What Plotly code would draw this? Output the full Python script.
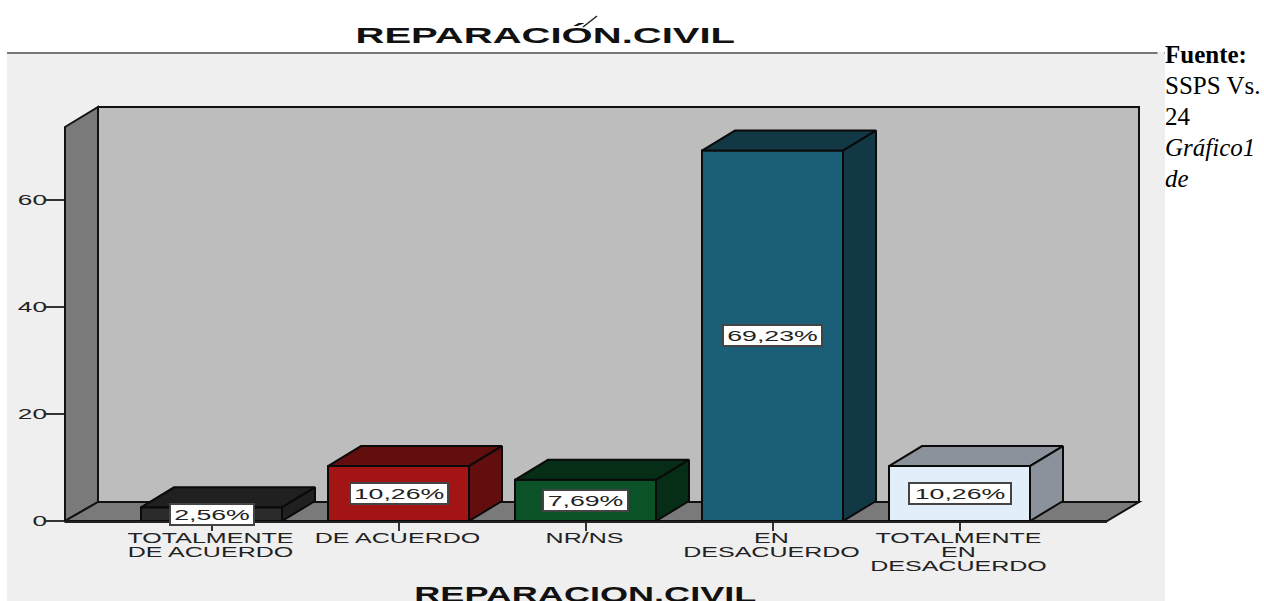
import plotly.graph_objects as go

categories = ["TOTALMENTE<br>DE ACUERDO", "DE ACUERDO", "NR/NS", "EN<br>DESACUERDO", "TOTALMENTE<br>EN<br>DESACUERDO"]
values = [2.56, 10.26, 7.69, 69.23, 10.26]
value_labels = ["2,56%", "10,26%", "7,69%", "69,23%", "10,26%"]
front_colors = ["#2b2b2b", "#a31515", "#0b5229", "#1b5e78", "#e3eefb"]
depth_colors = ["#202020", "#630e0e", "#062e17", "#123845", "#8b929b"]
box_widths = [86, 100, 87, 101, 104]
y_ticks = [0, 20, 40, 60]
side_note = ["<b>Fuente:</b>", "SSPS Vs.", "24", "<i>Gráfico1</i>", "<i>de</i>"]

W, H = 1264, 601
L, R, T, B = 65, 1107, 107, 521
X0, STEP = 211.5, 187.0
PXU = 5.35
BAR_W = 141 / STEP
DX, DY = 33 / STEP, 20 / PXU
idx = list(range(len(values)))


def px(v):
    return (v - L) / (R - L)


def py(v):
    return (B - v) / (B - T)


def poly(points):
    return "M" + " L".join(f"{px(a):.5f},{py(b):.5f}" for a, b in points) + " Z"


fig = go.Figure()
fig.add_bar(x=idx, y=values, width=BAR_W, marker=dict(color=front_colors, line=dict(color="#0a0a0a", width=2)),
            cliponaxis=False, hoverinfo="skip", showlegend=False)
for i, v in zip(idx, values):
    l, r = i - BAR_W / 2, i + BAR_W / 2
    fig.add_scatter(x=[l, r, r + DX, l + DX, l], y=[v, v, v + DY, v + DY, v], mode="lines", fill="toself",
                    fillcolor=depth_colors[i], line=dict(color="#0a0a0a", width=2), hoverinfo="skip", showlegend=False)
    fig.add_scatter(x=[r, r + DX, r + DX, r, r], y=[0, DY, v + DY, v, 0], mode="lines", fill="toself",
                    fillcolor=depth_colors[i], line=dict(color="#0a0a0a", width=2), hoverinfo="skip", showlegend=False)

edge = dict(color="#111111", width=2)
shapes = [
    dict(type="path", xref="paper", yref="paper", layer="below", line=dict(width=0), fillcolor="#efefef",
         path=poly([(7, 54), (1165, 54), (1165, 601), (7, 601)])),
    dict(type="line", xref="paper", yref="paper", layer="below", line=dict(color="#777777", width=2),
         x0=px(7), x1=px(1165), y0=py(53), y1=py(53)),
    dict(type="path", xref="paper", yref="paper", layer="below", line=edge, fillcolor="#bdbdbd",
         path=poly([(98, 107), (1139, 107), (1139, 502), (98, 502)])),
    dict(type="path", xref="paper", yref="paper", layer="below", line=edge, fillcolor="#7a7a7a",
         path=poly([(65, 127), (98, 107), (98, 502), (65, 521)])),
    dict(type="path", xref="paper", yref="paper", layer="below", line=edge, fillcolor="#7a7a7a",
         path=poly([(65, 521), (1107, 521), (1139, 502), (98, 502)])),
    dict(type="line", xref="paper", yref="paper", layer="above", line=dict(color="#222222", width=1.5),
         x0=px(583), y0=py(27), x1=px(597), y1=py(16)),
]

ann = []
for i, v in zip(idx, values):
    ann.append(dict(x=i, y=v / 2, xref="x", yref="y", text=value_labels[i], showarrow=False, width=box_widths[i] - 4,
                    height=19, bgcolor="#ffffff", bordercolor="#444444", borderwidth=2, borderpad=0,
                    font=dict(family="Liberation Sans", size=15, color="#222222")))
title_base = dict(xref="paper", yref="paper", showarrow=False, xanchor="center", yanchor="middle",
                  font=dict(family="Liberation Sans", size=22, color="#111111"))
ann.append(dict(title_base, x=px(545), y=py(36), text="<b>REPARACIÓN.CIVIL</b>"))
ann.append(dict(title_base, x=px(585), y=py(594), text="<b>REPARACION.CIVIL</b>"))
for k, line in enumerate(side_note):
    ann.append(dict(x=px(1163), y=py(54 + 31 * k), xref="paper", yref="paper", xanchor="left", yanchor="middle",
                    showarrow=False, text=line, font=dict(family="Liberation Serif", size=25, color="#000000")))
ann.append(dict(x=px(1165), y=py(116), xref="paper", yref="paper", xanchor="right", yanchor="middle", showarrow=False,
                text="&nbsp;", width=6, height=128, bgcolor="#efefef", borderpad=0, font=dict(size=10)))

fig.update_layout(
    width=W, height=H, margin=dict(l=L, r=W - R, t=T, b=H - B, pad=0, autoexpand=False), autosize=False,
    paper_bgcolor="#ffffff", plot_bgcolor="rgba(0,0,0,0)", showlegend=False,
    shapes=shapes, annotations=ann,
    xaxis=dict(range=[(L - X0) / STEP, (R - X0) / STEP], tickmode="array", tickvals=idx, ticktext=categories,
               ticks="outside", ticklen=8, tickwidth=2, tickcolor="#333333", showgrid=False, zeroline=False,
               showline=True, linecolor="#222222", linewidth=2,
               tickfont=dict(family="Liberation Sans", size=15, color="#222222"), fixedrange=True),
    yaxis=dict(range=[0, (B - T) / PXU], tickmode="array", tickvals=y_ticks, ticks="outside", ticklen=18, tickwidth=2,
               tickcolor="#333333", showgrid=False, zeroline=False, showline=False,
               tickfont=dict(family="Liberation Sans", size=15, color="#222222"), fixedrange=True),
)

post = r"""
document.documentElement.style.margin='0';document.body.style.margin='0';document.body.style.overflow='hidden';
var gd=document.getElementById('{plot_id}');
function st(el,sx,dy,right,dx){var b=el.getBBox();var cx=right?b.x+b.width:b.x+b.width/2;var t=el.getAttribute('transform')||'';
 el.setAttribute('transform',t+' translate('+(cx+(dx||0))+','+(dy||0)+') scale('+sx+',1) translate('+(-cx)+',0)');}
gd.querySelectorAll('.xtick text').forEach(function(e){
 e.querySelectorAll('tspan.line').forEach(function(t,k){t.setAttribute('dy',(k*14)+'px');});
 st(e,1.67,-6,false,-1);});
gd.querySelectorAll('.ytick text').forEach(function(e){st(e,1.75,0,true,4);});
gd.querySelectorAll('.annotation').forEach(function(a){
 var i=+a.getAttribute('data-index');var e=a.querySelector('text');if(!e)return;
 if(i<5)st(e,1.78);else if(i==5)st(e,1.82);else if(i==6)st(e,1.64);});
"""
fig.write_html("out.html", post_script=post, config=dict(displayModeBar=False, responsive=False))
